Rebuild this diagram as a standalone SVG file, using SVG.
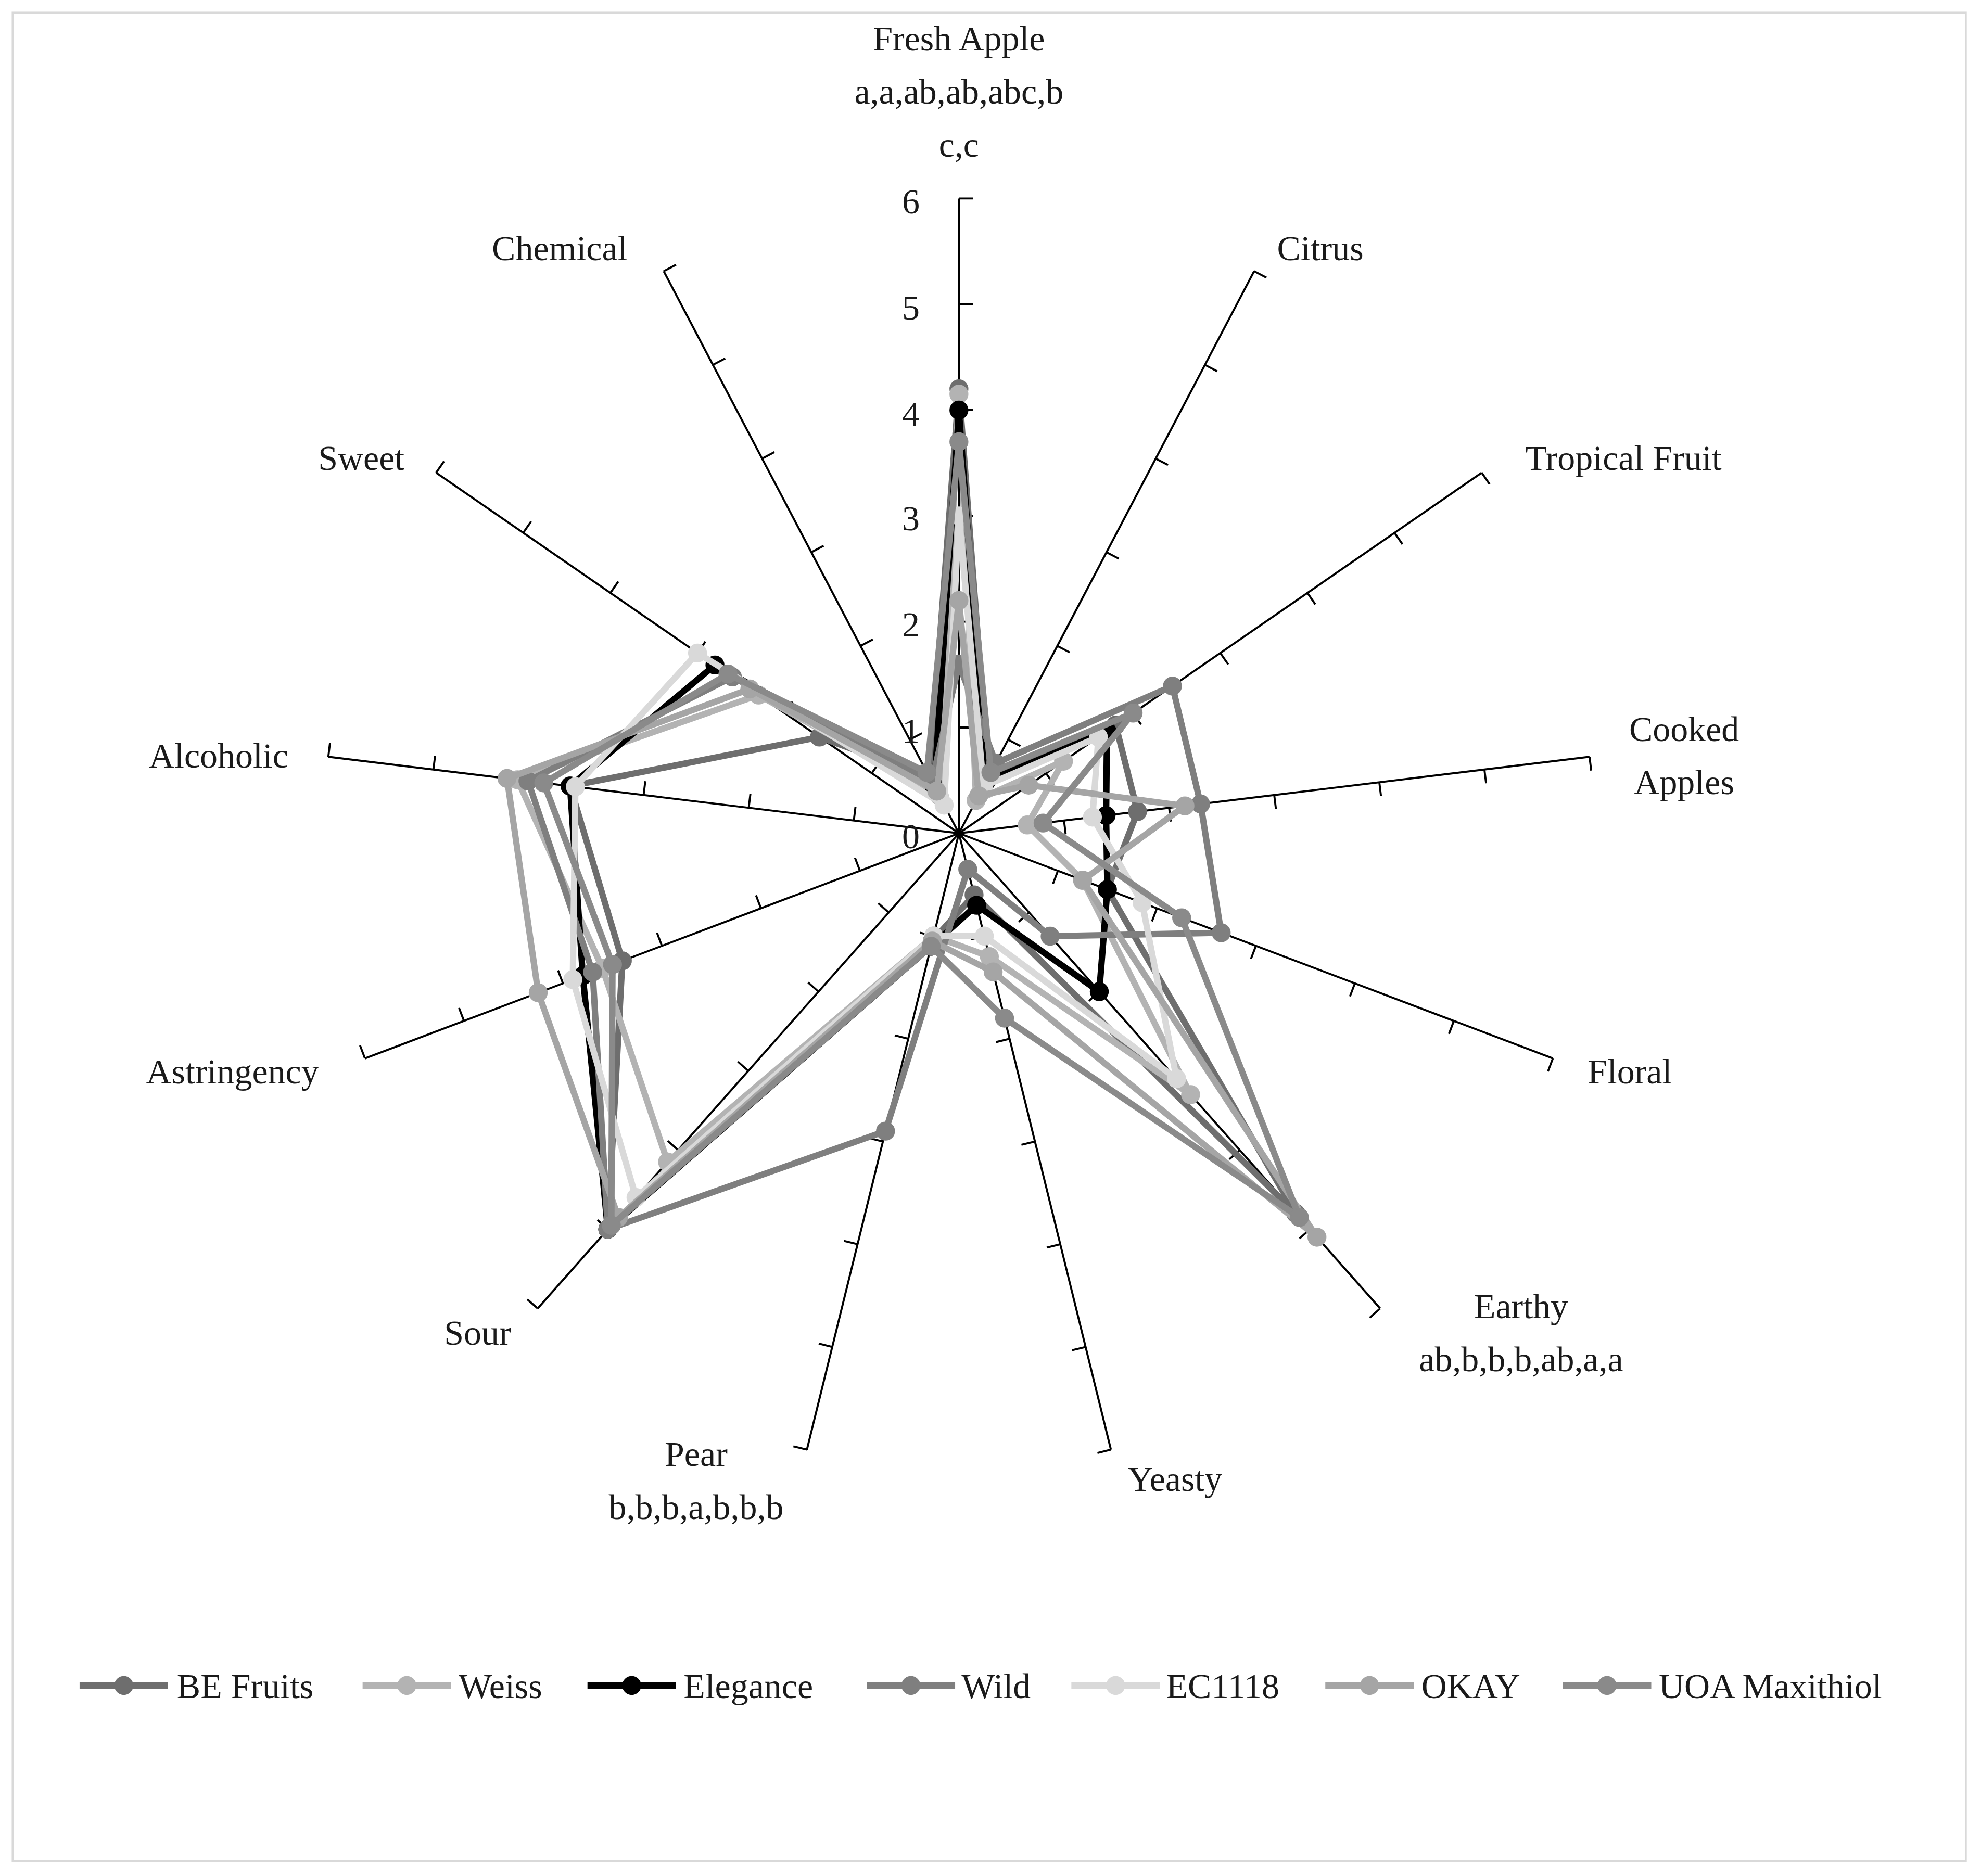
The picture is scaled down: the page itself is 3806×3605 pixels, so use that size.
<svg xmlns="http://www.w3.org/2000/svg" width="3806" height="3605" viewBox="0 0 3806 3605" xmlns:xlink="http://www.w3.org/1999/xlink">
<style>
text{font-family:"Liberation Serif","DejaVu Serif",serif;font-size:28px;fill:#1a1a1a}
.ax{stroke:#000;stroke-width:1.6;fill:none}
.s{fill:none;stroke-width:5;stroke-linejoin:round}
.be{stroke:#6e6e6e;fill:#6e6e6e}
.we{stroke:#b3b3b3;fill:#b3b3b3}
.el{stroke:#000;fill:#000}
.wi{stroke:#7f7f7f;fill:#7f7f7f}
.ec{stroke:#d9d9d9;fill:#d9d9d9}
.ok{stroke:#a5a5a5;fill:#a5a5a5}
.uo{stroke:#8a8a8a;fill:#8a8a8a}
</style>
<defs>
<g id="axis" class="ax">
<line x1="759" y1="660" x2="759" y2="157.2"/>
<path d="M759 576.2h11M759 492.4h11M759 408.6h11M759 324.8h11M759 241h11M759 157.2h11"/>
</g>
<circle id="d" r="7"/>
</defs>
<rect width="3806" height="3605" fill="#fff"/>
<g transform="scale(2.4273,2.4262)">
<rect x="10" y="10" width="1546" height="1464" fill="none" stroke="#d9d9d9" stroke-width="1.5"/>
<g id="axes">
<use xlink:href="#axis"/>
<use xlink:href="#axis" transform="rotate(27.692 759 660)"/>
<use xlink:href="#axis" transform="rotate(55.385 759 660)"/>
<use xlink:href="#axis" transform="rotate(83.077 759 660)"/>
<use xlink:href="#axis" transform="rotate(110.769 759 660)"/>
<use xlink:href="#axis" transform="rotate(138.462 759 660)"/>
<use xlink:href="#axis" transform="rotate(166.154 759 660)"/>
<use xlink:href="#axis" transform="rotate(193.846 759 660)"/>
<use xlink:href="#axis" transform="rotate(221.538 759 660)"/>
<use xlink:href="#axis" transform="rotate(249.231 759 660)"/>
<use xlink:href="#axis" transform="rotate(276.923 759 660)"/>
<use xlink:href="#axis" transform="rotate(304.615 759 660)"/>
<use xlink:href="#axis" transform="rotate(332.308 759 660)"/>
</g>
<g id="ticklabels" text-anchor="end">
<text x="728" y="672">0</text><text x="728" y="588">1</text><text x="728" y="504">2</text><text x="728" y="420">3</text><text x="728" y="337">4</text><text x="728" y="253">5</text><text x="728" y="169">6</text>
</g>
<g id="labels" text-anchor="middle">
<text x="759" y="40">Fresh Apple</text><text x="759" y="82">a,a,ab,ab,abc,b</text><text x="759" y="124">c,c</text>
<text x="1045" y="206">Citrus</text>
<text x="1285" y="372">Tropical Fruit</text>
<text x="1333" y="587">Cooked</text><text x="1333" y="629">Apples</text>
<text x="1290" y="858">Floral</text>
<text x="1204" y="1044">Earthy</text><text x="1204" y="1086">ab,b,b,b,ab,a,a</text>
<text x="930" y="1181">Yeasty</text>
<text x="551" y="1161">Pear</text><text x="551" y="1203">b,b,b,a,b,b,b</text>
<text x="378" y="1065">Sour</text>
<text x="184" y="858">Astringency</text>
<text x="173" y="608">Alcoholic</text>
<text x="286" y="372">Sweet</text>
<text x="443" y="206">Chemical</text>
</g>
<g id="series">
<g id="s-be" class="be"><polygon class="s be" fill="none" style="fill:none" points="759,308 782.4,615.5 883.1,574.3 900.4,642.8 876.5,704.6 1025.7,961.1 771,708.8 737.9,745.4 481.1,973.6 492.6,761 451.2,622.6 648.6,583.8 735.6,615.5"/>
<use xlink:href="#d" x="759" y="308"/><use xlink:href="#d" x="782.4" y="615.5"/><use xlink:href="#d" x="883.1" y="574.3"/><use xlink:href="#d" x="900.4" y="642.8"/><use xlink:href="#d" x="876.5" y="704.6"/><use xlink:href="#d" x="1025.7" y="961.1"/><use xlink:href="#d" x="771" y="708.8"/><use xlink:href="#d" x="737.9" y="745.4"/><use xlink:href="#d" x="481.1" y="973.6"/><use xlink:href="#d" x="492.6" y="761"/><use xlink:href="#d" x="451.2" y="622.6"/><use xlink:href="#d" x="648.6" y="583.8"/><use xlink:href="#d" x="735.6" y="615.5"/></g>
<g id="s-weiss" class="we"><polygon class="s" style="fill:none" points="759,312.2 772.6,634 841.8,602.9 813.1,653.4 856.9,697.2 942.4,867 783.1,757.6 739,741.4 528.4,920.3 476.9,767 409.6,617.6 600.4,550.5 743.4,630.3"/>
<use xlink:href="#d" x="759" y="312.2"/><use xlink:href="#d" x="772.6" y="634"/><use xlink:href="#d" x="841.8" y="602.9"/><use xlink:href="#d" x="813.1" y="653.4"/><use xlink:href="#d" x="856.9" y="697.2"/><use xlink:href="#d" x="942.4" y="867"/><use xlink:href="#d" x="783.1" y="757.6"/><use xlink:href="#d" x="739" y="741.4"/><use xlink:href="#d" x="528.4" y="920.3"/><use xlink:href="#d" x="476.9" y="767"/><use xlink:href="#d" x="409.6" y="617.6"/><use xlink:href="#d" x="600.4" y="550.5"/><use xlink:href="#d" x="743.4" y="630.3"/></g>
<g id="s-elegance" class="el"><polygon class="s" style="fill:none" points="759,324.8 780.4,619.2 876.2,579.1 875.5,645.9 876.5,704.6 870.1,785.4 773,717 737,749.5 481.1,973.6 461.3,772.9 451.2,622.6 565.9,526.7 739.5,622.9"/>
<use xlink:href="#d" x="759" y="324.8"/><use xlink:href="#d" x="780.4" y="619.2"/><use xlink:href="#d" x="876.2" y="579.1"/><use xlink:href="#d" x="875.5" y="645.9"/><use xlink:href="#d" x="876.5" y="704.6"/><use xlink:href="#d" x="870.1" y="785.4"/><use xlink:href="#d" x="773" y="717"/><use xlink:href="#d" x="737" y="749.5"/><use xlink:href="#d" x="481.1" y="973.6"/><use xlink:href="#d" x="461.3" y="772.9"/><use xlink:href="#d" x="451.2" y="622.6"/><use xlink:href="#d" x="565.9" y="526.7"/><use xlink:href="#d" x="739.5" y="622.9"/></g>
<g id="s-wild" class="wi"><polygon class="s" style="fill:none" points="759,525.9 788.2,604.4 928,543.4 950.3,636.8 966.6,738.8 831.2,741.5 766,688.5 700.9,895.9 481.1,973.6 469.1,770 417.9,618.6 579.7,536.2 737.6,619.2"/>
<use xlink:href="#d" x="759" y="525.9"/><use xlink:href="#d" x="788.2" y="604.4"/><use xlink:href="#d" x="928" y="543.4"/><use xlink:href="#d" x="950.3" y="636.8"/><use xlink:href="#d" x="966.6" y="738.8"/><use xlink:href="#d" x="831.2" y="741.5"/><use xlink:href="#d" x="766" y="688.5"/><use xlink:href="#d" x="700.9" y="895.9"/><use xlink:href="#d" x="481.1" y="973.6"/><use xlink:href="#d" x="469.1" y="770"/><use xlink:href="#d" x="417.9" y="618.6"/><use xlink:href="#d" x="579.7" y="536.2"/><use xlink:href="#d" x="737.6" y="619.2"/></g>
<g id="s-ec1118" class="ec"><polygon class="s" style="fill:none" points="759,408.6 778.5,622.9 869.4,583.8 864.7,647.2 904,715 931.3,854.4 779.1,741.4 739,741.4 503.4,948.5 453.4,775.9 455.4,623.1 552.1,517.2 747.3,637.7"/>
<use xlink:href="#d" x="759" y="408.6"/><use xlink:href="#d" x="778.5" y="622.9"/><use xlink:href="#d" x="869.4" y="583.8"/><use xlink:href="#d" x="864.7" y="647.2"/><use xlink:href="#d" x="904" y="715"/><use xlink:href="#d" x="931.3" y="854.4"/><use xlink:href="#d" x="779.1" y="741.4"/><use xlink:href="#d" x="739" y="741.4"/><use xlink:href="#d" x="503.4" y="948.5"/><use xlink:href="#d" x="453.4" y="775.9"/><use xlink:href="#d" x="455.4" y="623.1"/><use xlink:href="#d" x="552.1" y="517.2"/><use xlink:href="#d" x="747.3" y="637.7"/></g>
<g id="s-okay" class="ok"><polygon class="s" style="fill:none" points="759,475.6 774.6,630.3 814.2,621.9 937.9,638.3 856.9,697.2 1042.4,979.9 786.1,769.8 737.9,745.4 489.5,964.2 426,786.3 401.3,616.6 593.5,545.7 741.5,626.6"/>
<use xlink:href="#d" x="759" y="475.6"/><use xlink:href="#d" x="774.6" y="630.3"/><use xlink:href="#d" x="814.2" y="621.9"/><use xlink:href="#d" x="937.9" y="638.3"/><use xlink:href="#d" x="856.9" y="697.2"/><use xlink:href="#d" x="1042.4" y="979.9"/><use xlink:href="#d" x="786.1" y="769.8"/><use xlink:href="#d" x="737.9" y="745.4"/><use xlink:href="#d" x="489.5" y="964.2"/><use xlink:href="#d" x="426" y="786.3"/><use xlink:href="#d" x="401.3" y="616.6"/><use xlink:href="#d" x="593.5" y="545.7"/><use xlink:href="#d" x="741.5" y="626.6"/></g>
<g id="s-uoa" class="uo"><polygon class="s" style="fill:none" points="759,349.9 784.3,611.8 896.9,564.8 825.6,651.9 935.3,726.9 1028.5,964.2 795.1,806.4 737,749.5 483.9,970.5 484.8,764 430.4,620.1 576.2,533.8 733.7,611.8"/>
<use xlink:href="#d" x="759" y="349.9"/><use xlink:href="#d" x="784.3" y="611.8"/><use xlink:href="#d" x="896.9" y="564.8"/><use xlink:href="#d" x="825.6" y="651.9"/><use xlink:href="#d" x="935.3" y="726.9"/><use xlink:href="#d" x="1028.5" y="964.2"/><use xlink:href="#d" x="795.1" y="806.4"/><use xlink:href="#d" x="737" y="749.5"/><use xlink:href="#d" x="483.9" y="970.5"/><use xlink:href="#d" x="484.8" y="764"/><use xlink:href="#d" x="430.4" y="620.1"/><use xlink:href="#d" x="576.2" y="533.8"/><use xlink:href="#d" x="733.7" y="611.8"/></g>
</g>
<g id="legend">
<g class="be"><line x1="63" y1="1335" x2="133" y2="1335" stroke-width="5"/><use xlink:href="#d" x="98" y="1335"/></g><text x="140" y="1345">BE Fruits</text>
<g class="we"><line x1="287" y1="1335" x2="357" y2="1335" stroke-width="5"/><use xlink:href="#d" x="322" y="1335"/></g><text x="363" y="1345">Weiss</text>
<g class="el"><line x1="465" y1="1335" x2="535" y2="1335" stroke-width="5"/><use xlink:href="#d" x="500" y="1335"/></g><text x="541" y="1345">Elegance</text>
<g class="wi"><line x1="686" y1="1335" x2="756" y2="1335" stroke-width="5"/><use xlink:href="#d" x="721" y="1335"/></g><text x="761" y="1345">Wild</text>
<g class="ec"><line x1="848" y1="1335" x2="918" y2="1335" stroke-width="5"/><use xlink:href="#d" x="883" y="1335"/></g><text x="923" y="1345">EC1118</text>
<g class="ok"><line x1="1049" y1="1335" x2="1119" y2="1335" stroke-width="5"/><use xlink:href="#d" x="1084" y="1335"/></g><text x="1125" y="1345">OKAY</text>
<g class="uo"><line x1="1237" y1="1335" x2="1307" y2="1335" stroke-width="5"/><use xlink:href="#d" x="1272" y="1335"/></g><text x="1313" y="1345">UOA Maxithiol</text>
</g>
</g>
</svg>
